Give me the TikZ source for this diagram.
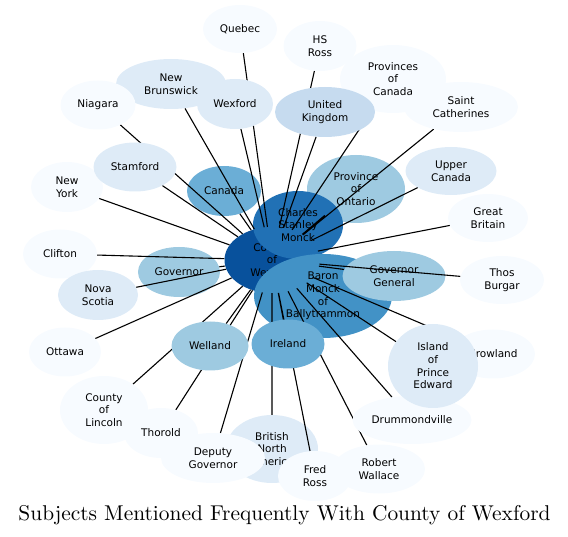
\documentclass[tikz,border=0pt]{standalone}
\usepackage{fontspec}
\usetikzlibrary{shapes.geometric}
\newfontfamily\lblfont{DejaVu Sans}
\definecolor{pale}{HTML}{F7FBFF}
\definecolor{ice}{HTML}{DEEBF7}
\definecolor{mist}{HTML}{C6DBEF}
\definecolor{sky}{HTML}{9ECAE1}
\definecolor{midblue}{HTML}{6BAED6}
\definecolor{deepblue}{HTML}{4292C6}
\definecolor{darkblue}{HTML}{2171B5}
\definecolor{navyblue}{HTML}{08519C}
\pgfdeclarelayer{under}
\pgfdeclarelayer{links}
\pgfsetlayers{under,links,main}
\tikzset{
  bub/.style n args={3}{ellipse, fill=#1, inner sep=0pt, align=center,
    minimum width=#2pt, minimum height=#3pt,
    font=\lblfont\fontsize{10.5}{12.7}\selectfont},
  link/.style={line width=1.1pt, black}
}

\begin{document}
\begin{tikzpicture}[x=1pt, y=-1pt]
  \useasboundingbox (0,0) rectangle (568,537);
  % nodes the links run over
  \begin{pgfonlayer}{under}
    \node[bub={sky}{98}{68}] (ontario) at (356,189) {Province\\of\\Ontario};
    \node[bub={midblue}{74}{50}] (canada) at (224,191) {Canada};
    \node[bub={sky}{82}{50}] (governor) at (179,272) {Governor};
    \node[bub={ice}{92}{68}] (bna) at (272,449) {British\\North\\America};
    \node[bub={navyblue}{95}{66}] (wexhub) at (272,260) {County\\of\\Wexford};
    \node[bub={darkblue}{90}{68}] (monck) at (298,225) {Charles\\Stanley\\Monck};
    \node[bub={deepblue}{138}{84}] (baron) at (323,296) {Baron\\Monck\\of\\Ballytrammon};
    \node[bub={sky}{103}{50}] (govgen) at (394,276) {Governor\\General};
  \end{pgfonlayer}
  % nodes drawn over the links
  \node[bub={ice}{110}{50}] (newbrunswick) at (171,84) {New\\Brunswick};
  \node[bub={ice}{76}{50}] (wexford) at (235,104) {Wexford};
  \node[bub={pale}{74}{48}] (quebec) at (240,29) {Quebec};
  \node[bub={pale}{73}{50}] (hsross) at (320,46) {HS\\Ross};
  \node[bub={pale}{106}{68}] (provinces) at (393,79) {Provinces\\of\\Canada};
  \node[bub={mist}{100}{50}] (uk) at (325,112) {United\\Kingdom};
  \node[bub={pale}{114}{50}] (saintcath) at (461,107) {Saint\\Catherines};
  \node[bub={pale}{75}{49}] (niagara) at (98,105) {Niagara};
  \node[bub={pale}{72}{50}] (newyork) at (67,187) {New\\York};
  \node[bub={ice}{83}{49}] (stamford) at (135,167) {Stamford};
  \node[bub={ice}{91}{48}] (upper) at (451,171) {Upper\\Canada};
  \node[bub={pale}{80}{48}] (greatbritain) at (488,218) {Great\\Britain};
  \node[bub={pale}{74}{49}] (clifton) at (60,254) {Clifton};
  \node[bub={ice}{80}{50}] (novascotia) at (98,295) {Nova\\Scotia};
  \node[bub={pale}{84}{48}] (thos) at (502,280) {Thos\\Burgar};
  \node[bub={pale}{72}{49}] (ottawa) at (65,352) {Ottawa};
  \node[bub={sky}{77}{49}] (welland) at (210,346) {Welland};
  \node[bub={midblue}{73}{49}] (ireland) at (288,344) {Ireland};
  \node[bub={pale}{84}{49}] (crowland) at (493,354) {Crowland};
  \node[bub={pale}{119}{48}] (drummond) at (412,420) {Drummondville};
  \node[bub={ice}{90}{84}] (island) at (433,366) {Island\\of\\Prince\\Edward};
  \node[bub={pale}{88}{68}] (lincoln) at (104,410) {County\\of\\Lincoln};
  \node[bub={pale}{74}{50}] (thorold) at (161,433) {Thorold};
  \node[bub={pale}{104}{50}] (deputy) at (213,458) {Deputy\\Governor};
  \node[bub={pale}{92}{49}] (robert) at (379,469) {Robert\\Wallace};
  \node[bub={pale}{74}{50}] (fredross) at (315,476) {Fred\\Ross};
  \begin{pgfonlayer}{links}
    \draw[link] (quebec) -- (wexhub) (hsross) -- (wexhub)
      (provinces) -- (wexhub) (newbrunswick) -- (wexhub)
      (niagara) -- (wexhub) (wexford) -- (wexhub) (uk) -- (wexhub)
      (saintcath) -- (wexhub) (stamford) -- (wexhub) (canada) -- (wexhub)
      (ontario) -- (wexhub) (upper) -- (wexhub) (newyork) -- (wexhub)
      (greatbritain) -- (wexhub) (clifton) -- (wexhub)
      (governor) -- (wexhub) (govgen) -- (wexhub) (thos) -- (wexhub)
      (novascotia) -- (wexhub) (ottawa) -- (wexhub) (welland) -- (wexhub)
      (ireland) -- (wexhub) (island) -- (wexhub) (crowland) -- (wexhub)
      (lincoln) -- (wexhub) (thorold) -- (wexhub) (bna) -- (wexhub)
      (deputy) -- (wexhub) (drummond) -- (wexhub)
      (fredross) -- (wexhub) (robert) -- (wexhub);
  \end{pgfonlayer}
  \node[font=\fontsize{10}{12}\selectfont, scale=2.14] (title) at (284.5,515)
    {Subjects Mentioned Frequently With County of Wexford};
\end{tikzpicture}
\end{document}
